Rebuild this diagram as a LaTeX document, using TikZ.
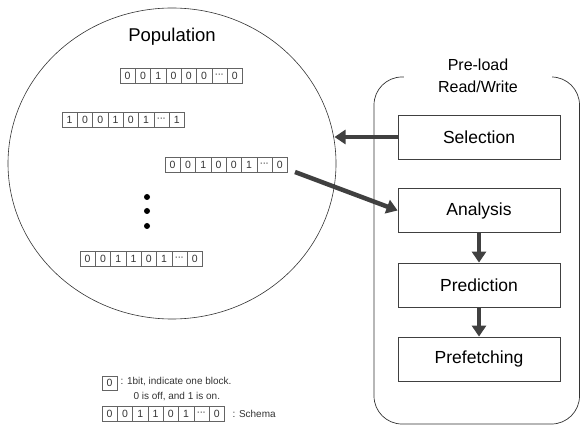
\documentclass[tikz,border=0pt]{standalone}
\usepackage{fontspec}
\setmainfont{Liberation Sans}
\usetikzlibrary{arrows.meta,shapes.geometric}
\definecolor{ink}{RGB}{51,51,51}
\definecolor{flow}{RGB}{64,64,64}
\definecolor{cellgray}{RGB}{100,100,100}

% one chromosome: name, left x, centre y, bits
\newcommand\bitrow[4]{%
  \foreach \b [count=\i] in {#4} {
    \node[bit] (#1-\i) at ({#2+(\i-0.5)*15.3},#3) {\b};
  }%
}
\newcommand\dd{\raisebox{-0.6pt}{\kern-0.3pt·\kern-0.6pt·\kern-0.6pt·}}

\begin{document}
\begin{tikzpicture}[x=1pt,y=-1pt,
  every node/.style={font=\fontsize{17.5}{20}\selectfont,text=black},
  bit/.style={draw=cellgray,line width=0.5pt,inner sep=0pt,minimum width=15.3pt,minimum height=15pt,
    font=\fontsize{10.5}{12}\selectfont,text=black!80},
  stage/.style={draw=flow,line width=0.8pt,minimum width=162pt,minimum height=44pt},
  flowarrow/.style={flow,line width=4.5pt,-{Triangle[length=11pt,width=14pt]}},
  note/.style={anchor=west,font=\fontsize{10}{12}\selectfont,text=black!80}]
\useasboundingbox (0,0) rectangle (581,430);
\node[draw=ink,line width=0.6pt,ellipse,inner sep=0pt,minimum width=328pt,minimum height=311pt] (pop) at (172,163.5) {};
\node (poptitle) at (172,37) {\fontsize{18.5}{20}\selectfont Population};
\bitrow{ra}{120}{76}{0,0,1,0,0,0,\dd,0}
\bitrow{rb}{62}{120}{1,0,0,1,0,1,\dd,1}
\bitrow{rc}{165}{164.5}{0,0,1,0,0,1,\dd,0}
\bitrow{rd}{80}{258.5}{0,0,1,1,0,1,\dd,0}
\foreach \y [count=\k] in {197,211,226}
  \fill (147,\y) circle (3) coordinate (dot\k);
\draw[ink,line width=0.7pt,rounded corners=28pt] (374,77) rectangle (579.5,424);
\node[fill=white,align=center,minimum width=148pt,inner ysep=1pt,font=\fontsize{16}{21.5}\selectfont] (phase) at (478,76) {Pre-load\\Read/Write};
\node[stage] (sel) at (479,137) {Selection};
\node[stage] (ana) at (479,210.5) {Analysis};
\node[stage] (pre) at (479,285) {Prediction};
\node[stage] (fet) at (479,359) {Prefetching};
\coordinate (popedge) at (334.5,137);
\coordinate (rcend) at (295,172);
\draw[flowarrow] (sel.west) -- (popedge);
\draw[flowarrow] (rcend) -- (ana.west);
\draw[flowarrow] (ana.south) -- (pre.north);
\draw[flowarrow] (pre.south) -- (fet.north);
\node[bit,minimum height=14pt] (key) at (109.5,383) {0};
\node[note] (keytxt) at (117,382) {: 1bit, indicate one block.};
\node[note] (keytxt2) at (130,397) {0 is off, and 1 is on.};
\bitrow{rs}{102}{414}{0,0,1,1,0,1,\dd,0}
\node[note] (schema) at (229,414) {: Schema};
\end{tikzpicture}
\end{document}
